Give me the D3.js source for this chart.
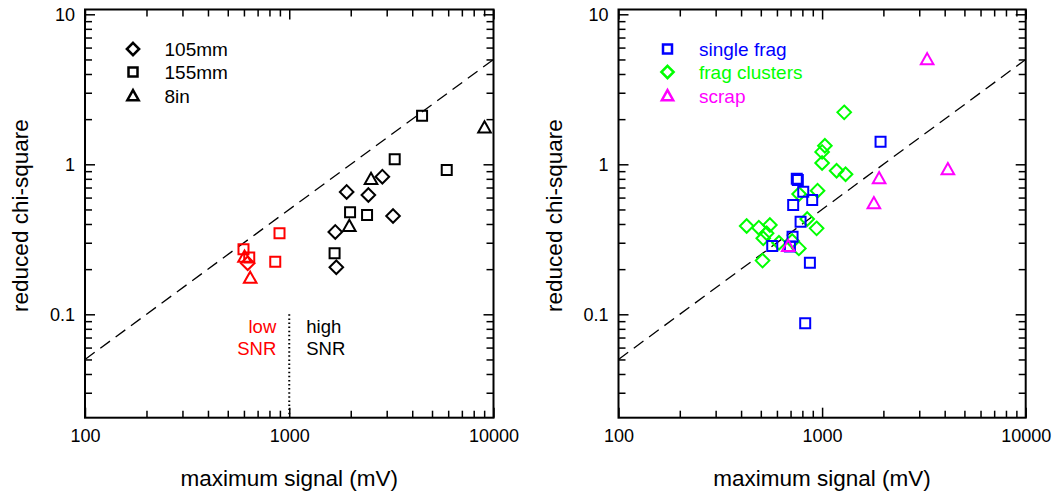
<!DOCTYPE html>
<html>
<head>
<meta charset="utf-8">
<script src="https://cdn.jsdelivr.net/npm/d3@7"></script>
<style>
  html, body { margin: 0; padding: 0; background: #fff; }
  svg { display: block; font-family: "Liberation Sans", Arial, sans-serif; }
</style>
</head>
<body>
<svg id="chart" width="1055" height="494"></svg>
<script>
// ---------- data ----------
const xMajorTicks = [100, 1000, 10000];
const yMajorTicks = [0.1, 1, 10];
const xMinorTicks = [200, 300, 400, 500, 600, 700, 800, 900, 2000, 3000, 4000, 5000, 6000, 7000, 8000, 9000];
const yMinorTicks = [0.03, 0.04, 0.05, 0.06, 0.07, 0.08, 0.09, 0.2, 0.3, 0.4, 0.5, 0.6, 0.7, 0.8, 0.9, 2, 3, 4, 5, 6, 7, 8, 9];
const xTitle = "maximum signal (mV)";
const yTitle = "reduced chi-square";
const snrThreshold = 1000;
const fitLineX = [100, 10000];
const fitSlope = 1 / 2000; // chi-square = signal / 2000

// left panel: by munition type [signal, chi2]
const left105mm = [[626, 0.219], [2857, 0.827], [1910, 0.654], [2440, 0.624], [3222, 0.452], [1680, 0.354], [1700, 0.206]];
const left155mm = [[597, 0.271], [637, 0.239], [896, 0.347], [854, 0.224], [4470, 2.11], [3283, 1.08], [5903, 0.916], [1985, 0.479], [2404, 0.459], [1667, 0.255]];
const left8in = [[604, 0.242], [644, 0.175], [9036, 1.76], [2514, 0.798], [1968, 0.388]];
const leftLegend = ["105mm", "155mm", "8in"];

// right panel: by target type [signal, chi2]
const singleFrag = [[1937, 1.415], [751, 0.80], [760, 0.787], [808, 0.657], [894, 0.578], [721, 0.535], [784, 0.414], [569, 0.285], [716, 0.329], [695, 0.283], [871, 0.221], [826, 0.087]];
const fragClusters = [[1284, 2.22], [1032, 1.33], [1000, 1.21], [1000, 1.02], [1178, 0.906], [1304, 0.858], [950, 0.667], [771, 0.634], [845, 0.432], [940, 0.374], [426, 0.388], [489, 0.378], [554, 0.394], [534, 0.347], [514, 0.321], [614, 0.300], [713, 0.308], [769, 0.275], [510, 0.228]];
const scrap = [[3281, 5.01], [4147, 0.926], [1906, 0.807], [1796, 0.55], [682, 0.285]];
const rightLegend = ["single frag", "frag clusters", "scrap"];

// ---------- drawing ----------
const svg = d3.select("#chart");
const FONT_TICK = 18, FONT_TITLE = 22.5, FONT_LEG = 19;

const symbolPath = {
  square: (s) => { const h = 5 * s; return `M${-h},${-h}H${h}V${h}H${-h}Z`; },
  diamond: (s) => { const r = 6.8 * s; return `M0,${-r}L${r},0L0,${r}L${-r},0Z`; },
  triangle: (s) => `M0,${-6.2 * s}L${6.3 * s},${5 * s}L${-6.3 * s},${5 * s}Z`
};

function panel(cfg) {
  const x = d3.scaleLog().domain([100, 10000]).range([cfg.x0, cfg.x1]);
  const y = d3.scaleLog().domain([0.1, 10]).range([314.3, 14.3]);
  const top = 9.5, bottom = 417.7;
  const g = svg.append("g");

  function styleAxis(sel) {
    sel.select(".domain").remove();
    sel.selectAll(".tick line").attr("stroke", "#000").attr("stroke-width", 1.5);
    sel.selectAll(".tick text").attr("fill", "#000").style("font-size", FONT_TICK + "px").style("font-family", "Liberation Sans, Arial, sans-serif");
  }
  g.append("g").attr("transform", `translate(0,${bottom})`)
    .call(d3.axisBottom(x).tickValues(xMajorTicks).tickSize(-10).tickPadding(12).tickFormat(d3.format("d"))).call(styleAxis);
  g.append("g").attr("transform", `translate(0,${bottom})`)
    .call(d3.axisBottom(x).tickValues(xMinorTicks).tickSize(-7).tickFormat("")).call(styleAxis);
  g.append("g").attr("transform", `translate(0,${top})`)
    .call(d3.axisTop(x).tickValues(xMajorTicks).tickSize(-10).tickFormat("")).call(styleAxis);
  g.append("g").attr("transform", `translate(0,${top})`)
    .call(d3.axisTop(x).tickValues(xMinorTicks).tickSize(-7).tickFormat("")).call(styleAxis);
  g.append("g").attr("transform", `translate(${cfg.x0},0)`)
    .call(d3.axisLeft(y).tickValues(yMajorTicks).tickSize(-10).tickPadding(10).tickFormat(d => String(d))).call(styleAxis);
  g.append("g").attr("transform", `translate(${cfg.x0},0)`)
    .call(d3.axisLeft(y).tickValues(yMinorTicks).tickSize(-7).tickFormat("")).call(styleAxis);
  g.append("g").attr("transform", `translate(${cfg.x1},0)`)
    .call(d3.axisRight(y).tickValues(yMajorTicks).tickSize(-10).tickFormat("")).call(styleAxis);
  g.append("g").attr("transform", `translate(${cfg.x1},0)`)
    .call(d3.axisRight(y).tickValues(yMinorTicks).tickSize(-7).tickFormat("")).call(styleAxis);

  g.append("rect").attr("x", cfg.x0).attr("y", top).attr("width", cfg.x1 - cfg.x0).attr("height", bottom - top)
    .attr("fill", "none").attr("stroke", "#000").attr("stroke-width", 2);

  g.append("text").attr("x", (cfg.x0 + cfg.x1) / 2).attr("y", 486).attr("text-anchor", "middle")
    .style("font-size", FONT_TITLE + "px").text(xTitle);
  g.append("text").attr("transform", `translate(${cfg.x0 - 57},${(top + bottom) / 2 + 2}) rotate(-90)`)
    .attr("text-anchor", "middle").style("font-size", FONT_TITLE + "px").text(yTitle);

  g.append("path").datum(fitLineX)
    .attr("d", d3.line().x(d => x(d)).y(d => y(d * fitSlope)))
    .attr("fill", "none").attr("stroke", "#000").attr("stroke-width", 1.3).attr("stroke-dasharray", "12,7");

  if (cfg.extra) cfg.extra(g, x, y, bottom);

  cfg.series.forEach(s => {
    g.append("g").selectAll("path").data(s.data).join("path")
      .attr("transform", d => `translate(${x(d[0])},${y(d[1])})`)
      .attr("d", symbolPath[s.shape](1))
      .attr("fill", "none")
      .attr("stroke", d => s.colorFn ? s.colorFn(d) : s.color)
      .attr("stroke-width", 2);
  });

  cfg.legend.forEach((L, i) => {
    const ly = [49, 72, 95.7][i];
    g.append("path").attr("transform", `translate(${cfg.legX},${ly})`)
      .attr("d", symbolPath[L.shape](0.9)).attr("fill", "none").attr("stroke", L.color).attr("stroke-width", 2.5);
    g.append("text").attr("x", cfg.legX + 31.5).attr("y", ly + 6.8).attr("fill", L.color)
      .style("font-size", FONT_LEG + "px").text(L.label);
  });
}

const snrColor = d => d[0] < snrThreshold ? "#ff0000" : "#000000";

panel({
  x0: 85, x1: 493.5, legX: 133,
  series: [
    { data: left105mm, shape: "diamond", colorFn: snrColor },
    { data: left155mm, shape: "square", colorFn: snrColor },
    { data: left8in, shape: "triangle", colorFn: snrColor }
  ],
  legend: [
    { shape: "diamond", color: "#000", label: leftLegend[0] },
    { shape: "square", color: "#000", label: leftLegend[1] },
    { shape: "triangle", color: "#000", label: leftLegend[2] }
  ],
  extra: (g, x, y, bottom) => {
    g.append("line").attr("x1", x(snrThreshold)).attr("x2", x(snrThreshold))
      .attr("y1", y(0.1)).attr("y2", bottom)
      .attr("stroke", "#000").attr("stroke-width", 2).attr("stroke-dasharray", "1.5,2.6");
    const xt = x(snrThreshold);
    g.append("text").attr("x", xt - 13).attr("y", y(0.1) + 18.5).attr("text-anchor", "end").attr("fill", "#ff0000").style("font-size", "18.5px").text("low");
    g.append("text").attr("x", xt - 13).attr("y", y(0.1) + 40.5).attr("text-anchor", "end").attr("fill", "#ff0000").style("font-size", "18.5px").text("SNR");
    g.append("text").attr("x", xt + 17).attr("y", y(0.1) + 18.5).attr("fill", "#000").style("font-size", "18.5px").text("high");
    g.append("text").attr("x", xt + 17).attr("y", y(0.1) + 40.5).attr("fill", "#000").style("font-size", "18.5px").text("SNR");
  }
});

panel({
  x0: 618.5, x1: 1025.7, legX: 667.5,
  series: [
    { data: fragClusters, shape: "diamond", color: "#00ff00" },
    { data: singleFrag, shape: "square", color: "#0000ff" },
    { data: scrap, shape: "triangle", color: "#ff00ff" }
  ],
  legend: [
    { shape: "square", color: "#0000ff", label: rightLegend[0] },
    { shape: "diamond", color: "#00ff00", label: rightLegend[1] },
    { shape: "triangle", color: "#ff00ff", label: rightLegend[2] }
  ]
});
</script>
</body>
</html>
